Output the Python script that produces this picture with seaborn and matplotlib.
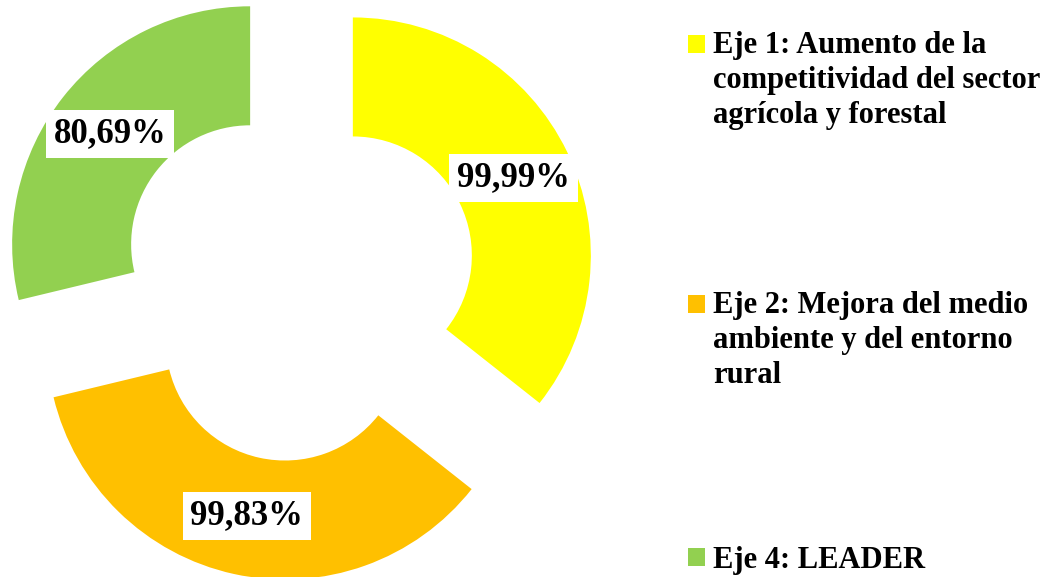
"""Doughnut chart - grado de ejecución por eje."""

import matplotlib
matplotlib.use('Agg')  # Non-interactive backend
import matplotlib.pyplot as plt
from matplotlib.patches import Rectangle
import seaborn as sns

# Set style
sns.set_style("white")
plt.rcParams['font.family'] = ['Liberation Serif', 'DejaVu Serif']
plt.rcParams['font.weight'] = 'bold'
plt.rcParams['text.color'] = 'black'

# Data
categorias = [
    "Eje 1: Aumento de la\ncompetitividad del sector\nagrícola y forestal",
    "Eje 2: Mejora del medio\nambiente y del entorno\nrural",
    "Eje 4: LEADER",
]
ejecucion = [99.99, 99.83, 80.69]
colores = ["#FFFF00", "#FFC000", "#92D050"]

W, H = 1059, 577
fig = plt.figure(figsize=(W / 100, H / 100), dpi=100)
ax = fig.add_axes([0, 0, 1, 1])

total = sum(ejecucion)


def fmt_pct(p):
    return f"{p * total / 100:.2f}%".replace('.', ',')


wedges, texts, autotexts = ax.pie(
    ejecucion,
    colors=colores,
    startangle=90,
    counterclock=False,
    explode=[0.256] * len(ejecucion),
    radius=1,
    wedgeprops=dict(width=0.5, linewidth=0),
    autopct=fmt_pct,
    pctdistance=0.75,
    textprops=dict(fontsize=25, fontweight='bold', color='black'),
)
for t in autotexts:
    t.set_bbox(dict(facecolor='white', edgecolor='none', boxstyle='square,pad=0.22'))

# place the doughnut like the original (center ~ (298, 282) px, radius 238 px)
scale, cx, cy = 238, 298, 282
ax.set_xlim(-cx / scale, (W - cx) / scale)
ax.set_ylim(-(H - cy) / scale, cy / scale)
ax.axis('off')

# Legend, one entry per block on the right
first_baselines = [55, 315, 568]
line_pitch = 34
for label, color, yb in zip(categorias, colores, first_baselines):
    n_lines = label.count("\n") + 1
    last_baseline = yb + (n_lines - 1) * line_pitch
    fig.add_artist(Rectangle((688 / W, 1 - (yb - 2) / H), 17 / W, 18 / H,
                             transform=fig.transFigure, facecolor=color,
                             edgecolor='none'))
    fig.text(713 / W, 1 - last_baseline / H, label, fontsize=22,
             fontweight='bold', color='black', va='baseline', ha='left',
             linespacing=1.28)

plt.savefig("out.png", dpi=100)
plt.close()
